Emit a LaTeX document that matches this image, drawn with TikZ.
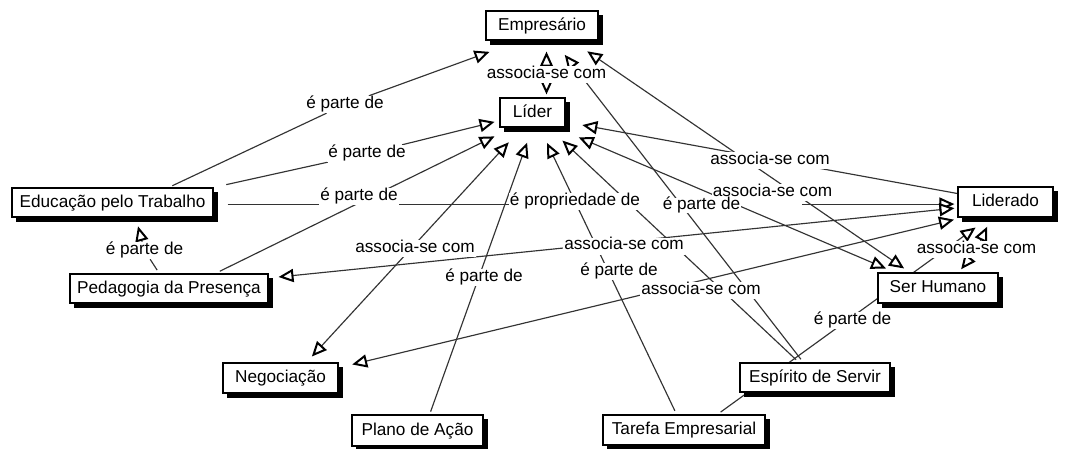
\documentclass[tikz,border=0pt]{standalone}
\usepackage{fontspec}
\setmainfont{Liberation Sans}
\usetikzlibrary{arrows.meta,backgrounds}
\pgfdeclarelayer{shadowlayer}
\pgfsetlayers{background,shadowlayer,main}
\newcommand{\cmfont}{\fontsize{17.2pt}{20pt}\selectfont}
\tikzset{
  concept/.style={draw=black, line width=1.1pt, fill=white, font=\cmfont, inner sep=0pt,
     text height=12pt, text depth=2.5pt},
  shadowbox/.style={fill=black},
  lab/.style={fill=white, font=\cmfont, inner sep=1pt, text height=11.5pt, text depth=3.5pt},
  ln/.style={draw=black!80, line width=1.15pt},
  arr/.style={ln, -{Triangle[color=black,fill=white,length=15pt,width=13pt,line width=2pt]}},
  arr2/.style={ln, {Triangle[color=black,fill=white,length=15pt,width=13pt,line width=2pt]}-{Triangle[color=black,fill=white,length=15pt,width=13pt,line width=2pt]}},
}
\begin{document}
\begin{tikzpicture}[x=1pt,y=-1pt]
\useasboundingbox (0,0) rectangle (1068,449);
% concepts
\node[concept, minimum width=112pt, minimum height=29pt] (Emp) at (542,25.5) {Empresário};
\node[concept, minimum width=65pt, minimum height=29pt] (Lid) at (532.5,112.5) {Líder};
\node[concept, minimum width=201pt, minimum height=29pt] (Edu) at (112.5,202.5) {Educação pelo Trabalho};
\node[concept, minimum width=198pt, minimum height=29pt] (Ped) at (169,288.5) {Pedagogia da Presença};
\node[concept, minimum width=115pt, minimum height=30pt] (Neg) at (280.5,378) {Negociação};
\node[concept, minimum width=131pt, minimum height=31pt] (Plano) at (417.5,430.5) {Plano de Ação};
\node[concept, minimum width=162pt, minimum height=30pt] (Tar) at (684,430) {Tarefa Empresarial};
\node[concept, minimum width=150pt, minimum height=29pt] (Esp) at (815,377.5) {Espírito de Servir};
\node[concept, minimum width=120pt, minimum height=30pt] (SerH) at (938,288) {Ser Humano};
\node[concept, minimum width=95pt, minimum height=30pt] (Ldo) at (1005.5,202) {Liderado};
% linking phrases
\node[lab] (L1) at (546.5,74.5) {associa-se com};
\node[lab] (L2) at (345,104.5) {é parte de};
\node[lab] (L3) at (367,153.5) {é parte de};
\node[lab] (L4) at (359,196.5) {é parte de};
\node[lab] (L5) at (575,202) {é propriedade de};
\node[lab] (L7) at (770,161) {associa-se com};
\node[lab] (L8) at (772.5,193) {associa-se com};
\node[lab, inner sep=0.3pt] (L6) at (701.5,205.5) {é parte de};
\node[lab] (L9) at (415,248) {associa-se com};
\node[lab] (L10) at (624,246) {associa-se com};
\node[lab] (L11) at (144.5,250.5) {é parte de};
\node[lab] (L12) at (484,277) {é parte de};
\node[lab] (L13) at (619,271) {é parte de};
\node[lab] (L14) at (701,290) {associa-se com};
\node[lab] (L15) at (976.5,249.5) {associa-se com};
\node[lab] (L16) at (852.5,320.5) {é parte de};
\coordinate (hz) at ([yshift=-1.6pt]Edu.east);
% drop shadows of the concepts
\begin{pgfonlayer}{shadowlayer}
\foreach \n in {Emp,Lid,Edu,Ped,Neg,Plano,Tar,Esp,SerH,Ldo}
  \fill[shadowbox] ([xshift=4.5pt,yshift=-4.5pt]\n.south west) rectangle ([xshift=4.5pt,yshift=-4.5pt]\n.north east);
\end{pgfonlayer}
\begin{pgfonlayer}{background}
\fill[white] (0,0) rectangle (1068,449);
% Empresario <- associa-se com -> Lider
\draw[arr, shorten >=11pt] (L1) -- (L1 |- Emp.south);
\draw[arr, shorten >=3pt] (L1) -- (L1 |- Lid.north);
% Educacao -> e parte de -> Empresario
\draw[ln, shorten <=4pt] (Edu.15) -- (L2);
\draw[arr, shorten >=33pt] (L2) -- (Emp.215);
% Educacao -> e parte de -> Lider
\draw[ln, shorten <=13pt] (Edu.north east) -- (L3);
\draw[arr, shorten >=5pt] (L3) -- (Lid);
% Pedagogia -> e parte de -> Lider
\draw[arr, shorten <=5pt, shorten >=20pt] (Ped.18) -- (Lid.217);
% Negociacao <-> associa-se com <-> Lider
\draw[arr2, shorten <=8pt, shorten >=20pt] (Neg.31) -- (Lid.-124);
% Plano de Acao -> e parte de -> Lider
\draw[arr, shorten <=3pt, shorten >=16pt] (Plano.53) -- (Lid.south);
% Tarefa -> e parte de -> Lider
\draw[arr, shorten <=4pt, shorten >=17pt] (Tar) -- (Lid);
% Espirito -> Lider
\draw[arr, shorten <=4pt, shorten >=19pt] (Esp) -- (Lid);
% Espirito -> e parte de -> Empresario
\draw[arr, shorten <=4pt, shorten >=18pt] (Esp) -- (Emp);
% Ser Humano <-> Empresario
\draw[arr2, shorten <=7pt, shorten >=19pt] (SerH.151) -- (Emp.-27);
% Ser Humano <-> Lider
\draw[arr2, shorten <=10pt, shorten >=25pt] (SerH.160) -- (Lid.-33);
% Liderado -> Lider
\draw[arr, shorten >=17pt] (Ldo.170) -- (Lid.-16);
% Educacao -> e propriedade de -> Liderado
\draw[ln, shorten <=14pt] (hz) -- (hz -| L5);
\draw[arr, shorten <=227pt, shorten >=3pt] (hz -| L5) -- (hz -| Ldo.west);
% Pedagogia <-> Liderado
\draw[arr2, shorten <=10pt, shorten >=3pt] (Ped.6) -- (Ldo.187);
% Negociacao <-> Liderado
\draw[arr2, shorten <=14pt, shorten >=9pt] (Neg.10) -- (Ldo.200);
% Tarefa -> e parte de -> Liderado
\draw[arr, shorten <=4pt, shorten >=17pt] (Tar.25) -- (Ldo.224);
% Liderado <- associa-se com -> Ser Humano
\draw[arr, shorten >=10pt] (L15) -- (Ldo.228);
\draw[arr, shorten >=4pt] (L15) -- (SerH.37);
% Pedagogia -> e parte de -> Educacao
\draw[ln, shorten <=4pt] (Ped) -- (L11);
\draw[arr, shorten >=9pt] (L11) -- (Edu.-33);
\end{pgfonlayer}
\end{tikzpicture}
\end{document}
